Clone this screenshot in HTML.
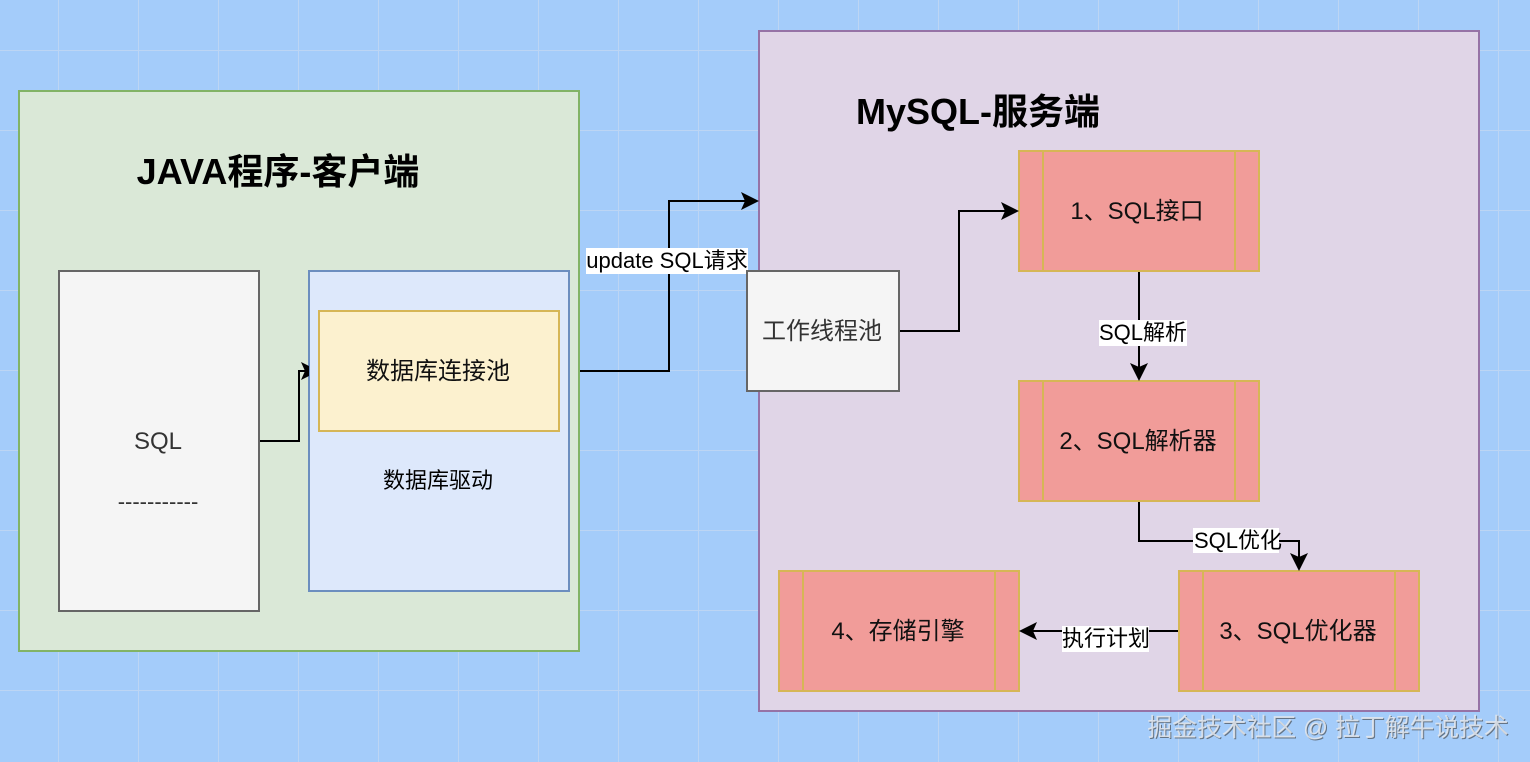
<!DOCTYPE html>
<html>
<head>
<meta charset="utf-8">
<style>
html,body{margin:0;padding:0;background:#a4ccfa;}
svg{display:block;}
text{font-family:"Liberation Sans","Noto Sans CJK SC",sans-serif;text-anchor:middle;}
.t{font-size:24px;fill:#111;}
.g{font-size:24px;fill:#333;}
.l{font-size:22px;fill:#000;}
.h{font-size:36px;font-weight:bold;fill:#000;}
.e{fill:none;stroke:#000;stroke-width:2;}
.r{fill:#f19c99;stroke:#d6b656;stroke-width:2;}
.i{fill:none;stroke:#d6b656;stroke-width:2;}
</style>
</head>
<body>
<svg width="1530" height="762" viewBox="0 0 1530 762" xmlns="http://www.w3.org/2000/svg">
<defs>
<pattern id="grid" width="80" height="80" patternUnits="userSpaceOnUse" x="58" y="50">
<path d="M0.5 0V80M0 0.5H80" stroke="#bcd5f4" stroke-width="1" fill="none"/>
</pattern>
</defs>
<rect width="1530" height="762" fill="#a4ccfa"/>
<rect width="1530" height="762" fill="url(#grid)"/>

<rect x="19" y="91" width="560" height="560" fill="#dae8d7" stroke="#82b366" stroke-width="2"/>
<text class="h" x="278" y="184">JAVA程序-客户端</text>

<rect x="59" y="271" width="200" height="340" fill="#f5f5f5" stroke="#666" stroke-width="2"/>
<text class="g" x="158" y="449">SQL</text>
<text class="g" x="158" y="509" style="font-size:22px">-----------</text>

<rect x="309" y="271" width="260" height="320" fill="#dde8fb" stroke="#6c8ebf" stroke-width="2"/>
<rect x="319" y="311" width="240" height="120" fill="#fcf1cf" stroke="#d6b656" stroke-width="2"/>
<text class="t" x="438" y="379">数据库连接池</text>
<text class="l" x="438" y="488">数据库驱动</text>

<rect x="759" y="31" width="720" height="680" fill="#e0d5e7" stroke="#9673a6" stroke-width="2"/>
<text class="h" x="978" y="124">MySQL-服务端</text>

<rect class="r" x="1019" y="151" width="240" height="120"/>
<path class="i" d="M1043 151V271M1235 151V271"/>
<text class="t" x="1137" y="219">1、SQL接口</text>

<rect class="r" x="1019" y="381" width="240" height="120"/>
<path class="i" d="M1043 381V501M1235 381V501"/>
<text class="t" x="1138" y="449">2、SQL解析器</text>

<rect class="r" x="1179" y="571" width="240" height="120"/>
<path class="i" d="M1203 571V691M1395 571V691"/>
<text class="t" x="1298" y="639">3、SQL优化器</text>

<rect class="r" x="779" y="571" width="240" height="120"/>
<path class="i" d="M803 571V691M995 571V691"/>
<text class="t" x="898" y="639">4、存储引擎</text>

<!-- connectors -->
<path class="e" d="M260 441H299V371H305"/>
<path d="M301 362L309 366V376L301 380L305 371Z" fill="#000"/>

<path class="e" d="M580 371H669V201H745"/>
<path d="M759 201L741 192L745 201L741 210Z" fill="#000"/>

<rect x="586" y="248" width="162" height="26" fill="#fff"/>
<text class="l" x="667" y="268">update SQL请求</text>

<rect x="747" y="271" width="152" height="120" fill="#f5f5f5" stroke="#666" stroke-width="2"/>
<text class="g" x="822" y="339">工作线程池</text>

<path class="e" d="M900 331H959V211H1005"/>
<path d="M1019 211L1001 202L1005 211L1001 220Z" fill="#000"/>

<path class="e" d="M1139 272V367"/>
<path d="M1139 381L1130 363L1139 367L1148 363Z" fill="#000"/>
<rect x="1099" y="320" width="88" height="26" fill="#fff"/>
<text class="l" x="1143" y="340">SQL解析</text>

<path class="e" d="M1139 502V541H1299V557"/>
<path d="M1299 571L1290 553L1299 557L1308 553Z" fill="#000"/>
<rect x="1193" y="528" width="86" height="25" fill="#fff"/>
<text class="l" x="1238" y="548">SQL优化</text>

<path class="e" d="M1178 631H1033"/>
<path d="M1019 631L1037 622L1033 631L1037 640Z" fill="#000"/>
<rect x="1062" y="626" width="87" height="26" fill="#fff"/>
<text class="l" x="1106" y="646">执行计划</text>

<!-- watermark -->
<text x="1328" y="736" style="font-size:24.8px;fill:#3a3a3a;opacity:.6" transform="translate(1 1)">掘金技术社区 @ 拉丁解牛说技术</text>
<text x="1328" y="736" style="font-size:24.8px;fill:#e6e9ee;opacity:.85">掘金技术社区 @ 拉丁解牛说技术</text>
</svg>
</body>
</html>
